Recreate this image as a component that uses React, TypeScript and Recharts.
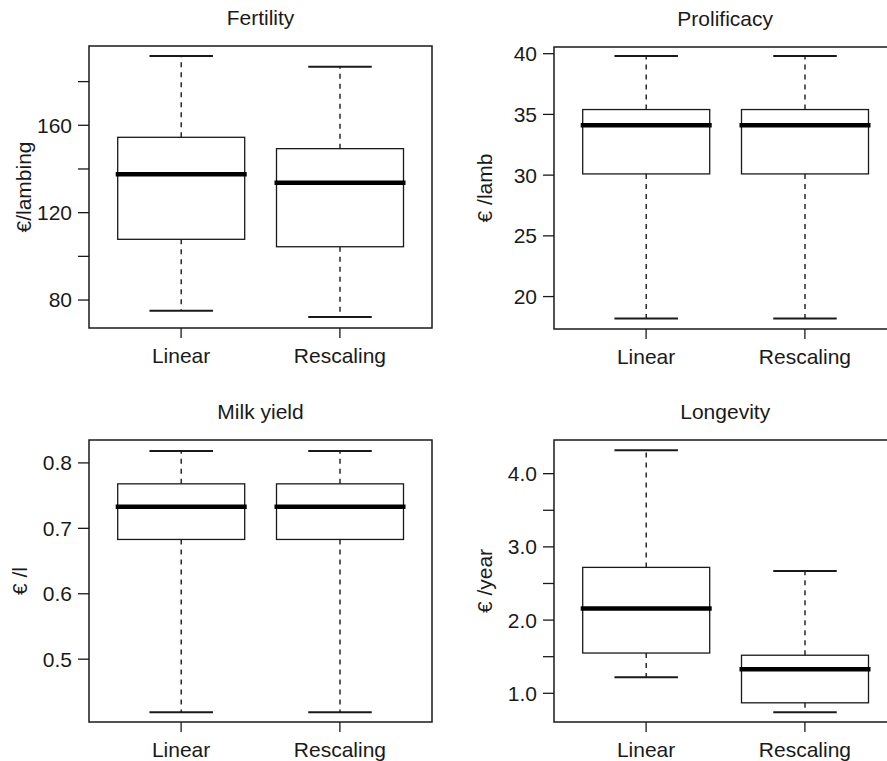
import React from 'react';
import { BarChart, Bar, XAxis, YAxis, ReferenceArea } from 'recharts';

const methods = ['Linear', 'Rescaling'];

// box plot stats, one value per method
const fertilityMin = [75.1, 72.2];
const fertilityQ1 = [107.8, 104.4];
const fertilityMedian = [137.6, 133.7];
const fertilityQ3 = [154.5, 149.3];
const fertilityMax = [191.7, 186.8];

const prolificacyMin = [18.2, 18.2];
const prolificacyQ1 = [30.1, 30.1];
const prolificacyMedian = [34.1, 34.1];
const prolificacyQ3 = [35.4, 35.4];
const prolificacyMax = [39.8, 39.8];

const milkMin = [0.419, 0.419];
const milkQ1 = [0.683, 0.683];
const milkMedian = [0.733, 0.733];
const milkQ3 = [0.768, 0.768];
const milkMax = [0.818, 0.818];

const longevityMin = [1.22, 0.74];
const longevityQ1 = [1.55, 0.87];
const longevityMedian = [2.16, 1.33];
const longevityQ3 = [2.72, 1.52];
const longevityMax = [4.32, 2.67];

// tick marks and which of them carry a label
const fertilityTicks = [80, 100, 120, 140, 160, 180];
const fertilityLabels = [80, 120, 160];
const prolificacyTicks = [20, 25, 30, 35, 40];
const milkTicks = [0.5, 0.6, 0.7, 0.8];
const longevityTicks = [1, 1.5, 2, 2.5, 3, 3.5, 4];
const longevityLabels = [1, 2, 3, 4];

const FONT = '"Liberation Sans", Arial, Helvetica, sans-serif';
const INK = '#1a1a1a';

const buildRows = (min: number[], q1: number[], med: number[], q3: number[], max: number[]) =>
  methods.map((name, i) => ({
    pos: i + 1,
    name,
    base: min[i],
    lowW: q1[i] - min[i],
    lowBox: med[i] - q1[i],
    highBox: q3[i] - med[i],
    highW: max[i] - q3[i],
  }));

const Empty = () => <g />;

const LowWhisker = (p: any) => {
  const { x, y, width, height } = p;
  const cx = x + width / 2;
  return (
    <g>
      <line x1={cx} x2={cx} y1={y} y2={y + height} stroke={INK} strokeWidth={1.4} strokeDasharray="5 5" />
      <line x1={x + width / 4} x2={x + (width * 3) / 4} y1={y + height} y2={y + height} stroke={INK} strokeWidth={2} />
    </g>
  );
};

const HighWhisker = (p: any) => {
  const { x, y, width, height } = p;
  const cx = x + width / 2;
  return (
    <g>
      <line x1={cx} x2={cx} y1={y + height} y2={y} stroke={INK} strokeWidth={1.4} strokeDasharray="5 5" />
      <line x1={x + width / 4} x2={x + (width * 3) / 4} y1={y} y2={y} stroke={INK} strokeWidth={2} />
    </g>
  );
};

const LowBox = (p: any) => {
  const { x, y, width, height } = p;
  return <rect x={x} y={y} width={width} height={height} fill="#fff" stroke={INK} strokeWidth={1.3} />;
};

const HighBox = (p: any) => {
  const { x, y, width, height } = p;
  return (
    <g>
      <rect x={x} y={y} width={width} height={height} fill="#fff" stroke={INK} strokeWidth={1.3} />
      <line x1={x - 2} x2={x + width + 2} y1={y + height} y2={y + height} stroke="#000" strokeWidth={4.5} />
    </g>
  );
};

type PanelProps = {
  title: string;
  ylabel: string;
  rows: any[];
  domain: [number, number];
  ticks: number[];
  labelled?: number[];
  decimals: number;
  left: number;
  top: number;
  labelX: number;
};

const Panel = ({ title, ylabel, rows, domain, ticks, labelled, decimals, left, top, labelX }: PanelProps) => {
  const fmt = (v: number) => {
    if (labelled && !labelled.some((l) => Math.abs(l - v) < 1e-9)) return '';
    return v.toFixed(decimals);
  };
  return (
    <div style={{ position: 'absolute', left, top, width: 460, height: 380 }}>
      <div
        style={{
          position: 'absolute',
          left: 89,
          top: 7,
          width: 343,
          textAlign: 'center',
          fontFamily: FONT,
          fontSize: 21,
          lineHeight: '21px',
          color: INK,
        }}
      >
        {title}
      </div>
      <BarChart width={460} height={380} data={rows} margin={{ top: 46, right: 28, bottom: 12, left: 29 }}>
        <XAxis
          dataKey="pos"
          type="number"
          domain={[0.42, 2.58]}
          allowDataOverflow
          ticks={[1, 2]}
          interval={0}
          tickFormatter={(v: number) => methods[v - 1] ?? ''}
          axisLine={false}
          tickSize={10}
          tickMargin={10}
          height={40}
          tickLine={{ stroke: INK, strokeWidth: 1.3 }}
          tick={{ fontSize: 21, fill: INK, fontFamily: FONT }}
        />
        <YAxis
          type="number"
          domain={domain}
          allowDataOverflow
          ticks={ticks}
          interval={0}
          tickFormatter={fmt}
          width={60}
          axisLine={false}
          tickSize={11}
          tickMargin={6}
          tickLine={{ stroke: INK, strokeWidth: 1.3 }}
          tick={{ fontSize: 21, fill: INK, fontFamily: FONT }}
          label={{
            content: (lp: any) => {
              const vb = lp.viewBox || { x: 29, y: 46, width: 60, height: 282 };
              const cy = vb.y + vb.height / 2;
              return (
                <text
                  x={labelX}
                  y={cy}
                  transform={`rotate(-90, ${labelX}, ${cy})`}
                  textAnchor="middle"
                  dominantBaseline="central"
                  fontSize={21}
                  fontFamily={FONT}
                  fill={INK}
                >
                  {ylabel}
                </text>
              );
            },
          }}
        />
        <ReferenceArea
          x1={0.42}
          x2={2.58}
          y1={domain[0]}
          y2={domain[1]}
          fill="none"
          stroke={INK}
          strokeWidth={1.5}
          ifOverflow="visible"
        />
        <Bar dataKey="base" stackId="s" barSize={127} shape={Empty} isAnimationActive={false} />
        <Bar dataKey="lowW" stackId="s" barSize={127} shape={LowWhisker} isAnimationActive={false} />
        <Bar dataKey="lowBox" stackId="s" barSize={127} shape={LowBox} isAnimationActive={false} />
        <Bar dataKey="highBox" stackId="s" barSize={127} shape={HighBox} isAnimationActive={false} />
        <Bar dataKey="highW" stackId="s" barSize={127} shape={HighWhisker} isAnimationActive={false} />
      </BarChart>
    </div>
  );
};

export default function App() {
  return (
    <div style={{ position: 'absolute', left: 0, top: 0, width: 887, height: 761, overflow: 'hidden', background: '#fff' }}>
      <Panel
        title="Fertility"
        ylabel="€/lambing"
        rows={buildRows(fertilityMin, fertilityQ1, fertilityMedian, fertilityQ3, fertilityMax)}
        domain={[67.2, 196.3]}
        ticks={fertilityTicks}
        labelled={fertilityLabels}
        decimals={0}
        left={0}
        top={0}
        labelX={23}
      />
      <Panel
        title="Prolificacy"
        ylabel="€ /lamb"
        rows={buildRows(prolificacyMin, prolificacyQ1, prolificacyMedian, prolificacyQ3, prolificacyMax)}
        domain={[17.33, 40.55]}
        ticks={prolificacyTicks}
        decimals={0}
        left={464.7}
        top={0.5}
        labelX={19}
      />
      <Panel
        title="Milk yield"
        ylabel="€ /l"
        rows={buildRows(milkMin, milkQ1, milkMedian, milkQ3, milkMax)}
        domain={[0.404, 0.835]}
        ticks={milkTicks}
        decimals={1}
        left={0}
        top={394}
        labelX={19}
      />
      <Panel
        title="Longevity"
        ylabel="€ /year"
        rows={buildRows(longevityMin, longevityQ1, longevityMedian, longevityQ3, longevityMax)}
        domain={[0.608, 4.46]}
        ticks={longevityTicks}
        labelled={longevityLabels}
        decimals={1}
        left={464.7}
        top={394}
        labelX={19}
      />
    </div>
  );
}
